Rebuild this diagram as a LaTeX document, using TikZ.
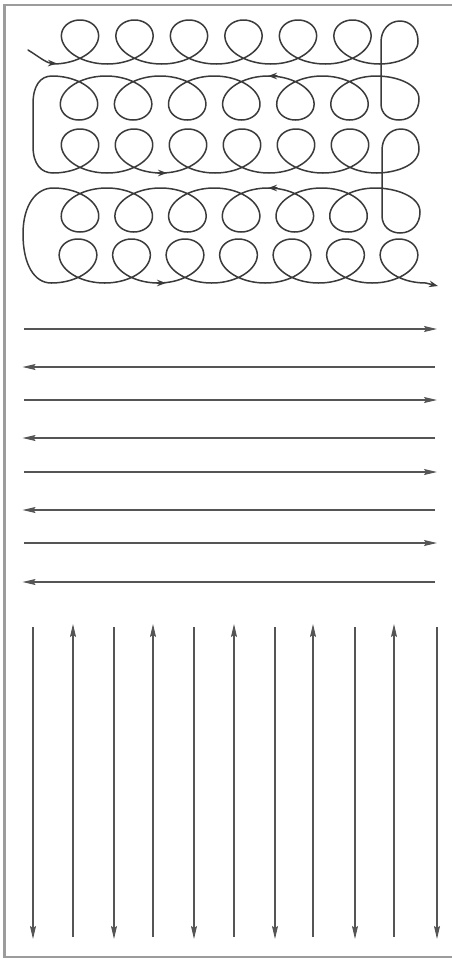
\documentclass[tikz,border=0pt]{standalone}
\usetikzlibrary{arrows.meta}
\definecolor{framegray}{HTML}{9C9C9C}
\definecolor{loopgray}{HTML}{3A3A3A}
\definecolor{linegray}{HTML}{555555}
\tikzset{
  loopline/.style={draw=loopgray, line width=1.5pt, line join=round, line cap=round},
  looparrow/.style={loopline, -{Stealth[length=9pt,width=6.5pt]}},
  straightarrow/.style={draw=linegray, line width=1.2pt, -{Stealth[length=13pt,width=6pt,inset=2pt]}},
  framestyle/.style={draw=framegray, line width=2.5pt}
}
\begin{document}
\begin{tikzpicture}[x=1pt,y=-1pt]
\useasboundingbox (0,0) rectangle (452,959);
% frame
\coordinate (fTR) at (452,5);
\coordinate (fTL) at (4.5,5);
\coordinate (fBL) at (4.5,957);
\coordinate (fBR) at (452,957);
\draw[framestyle] (fTR) -- (fTL) -- (fBL) -- (fBR);

% looping path
\coordinate (entry) at (28,50);
\coordinate (entryend) at (57,63.5);
\draw[looparrow] (entry) .. controls (38,56) and (46,63) .. (entryend);

\coordinate (finalend) at (438,286);
\draw[loopline, -{Stealth[length=9pt,width=6.5pt]}]
  plot[domain=-pi:11*pi, samples=481, variable=\t] ({80+8.674*\t-31*sin(\t r)},{42-22*cos(\t r)})
  .. controls (395,64) and (418,58) .. (418,41)
  .. controls (418,29) and (410,21) .. (400,21)
  .. controls (389,21) and (381,30) .. (381,42)
  -- (381,104)
  .. controls (381,114) and (389,120) .. (399,120)
  .. controls (411,120) and (419,111) .. (419,99)
  .. controls (419,84) and (396,76) .. (376.55,76)
  -- plot[domain=-pi:11*pi, samples=481, variable=\t] ({349.5-8.610*\t+31*sin(\t r)},{98+22*cos(\t r)})
  .. controls (40,76) and (33,86) .. (33,104)
  -- (33,146)
  .. controls (33,164) and (41,173) .. (53,173)
  -- plot[domain=-pi:11*pi, samples=481, variable=\t] ({80+8.594*\t-31*sin(\t r)},{151-22*cos(\t r)})
  .. controls (392,173) and (419,167) .. (419,149)
  .. controls (419,137) and (411,129) .. (401,129)
  .. controls (390,129) and (382,138) .. (382,150)
  -- (382,216)
  .. controls (382,226) and (390,233) .. (400,233)
  .. controls (412,233) and (420,224) .. (420,212)
  .. controls (420,196) and (395,188) .. (375.35,188)
  -- plot[domain=-pi:11*pi, samples=481, variable=\t] ({348.5-8.547*\t+31*sin(\t r)},{210+22*cos(\t r)})
  .. controls (36,188) and (23,205) .. (23,234)
  .. controls (23,264) and (34,283) .. (51.25,283)
  -- plot[domain=-pi:13*pi, samples=561, variable=\t] ({78+8.515*\t-31*sin(\t r)},{261-22*cos(\t r)})
  -- (finalend);

% direction marks along the loops
\coordinate (a2s) at (277,76);   \coordinate (a2e) at (268,76);
\coordinate (a3s) at (158,173);  \coordinate (a3e) at (167,173);
\coordinate (a4s) at (277,188);  \coordinate (a4e) at (268,188);
\coordinate (a5s) at (157,283);  \coordinate (a5e) at (166,283);
\draw[looparrow] (a2s) -- (a2e);
\draw[looparrow] (a3s) -- (a3e);
\draw[looparrow] (a4s) -- (a4e);
\draw[looparrow] (a5s) -- (a5e);

% horizontal arrows
\foreach \yy/\i in {329/1, 400/3, 472/5, 543/7} {
  \coordinate (hL\i) at (24,\yy);
  \coordinate (hR\i) at (437,\yy);
  \draw[straightarrow] (hL\i) -- (hR\i);
}
\foreach \yy/\i in {367/2, 438/4, 510/6, 582/8} {
  \coordinate (hL\i) at (22.5,\yy);
  \coordinate (hR\i) at (435,\yy);
  \draw[straightarrow] (hR\i) -- (hL\i);
}

% vertical arrows
\foreach \xx/\i in {33/1, 114/3, 194/5, 275/7, 355/9, 437/11} {
  \coordinate (vT\i) at (\xx,627);
  \coordinate (vB\i) at (\xx,939);
  \draw[straightarrow] (vT\i) -- (vB\i);
}
\foreach \xx/\i in {73/2, 153/4, 234/6, 313/8, 394/10} {
  \coordinate (vT\i) at (\xx,624);
  \coordinate (vB\i) at (\xx,937);
  \draw[straightarrow] (vB\i) -- (vT\i);
}
\end{tikzpicture}
\end{document}
